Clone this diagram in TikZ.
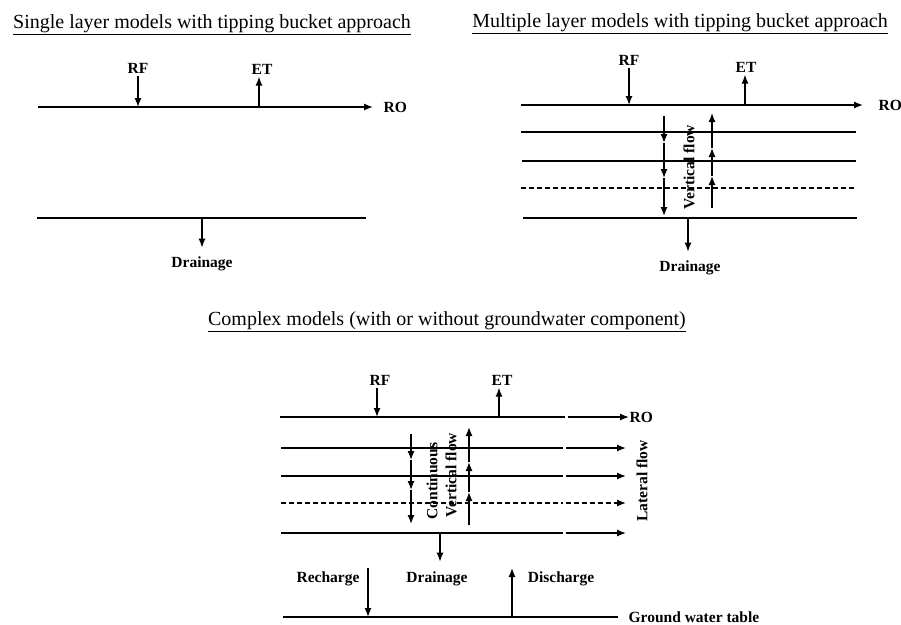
\documentclass[tikz,border=0pt]{standalone}
\usepackage{fontspec}
\setmainfont{Liberation Serif}
\usetikzlibrary{arrows.meta}

\begin{document}
\begin{tikzpicture}[x=1pt,y=-1pt,line width=1.3pt,
		flux/.style={-{Latex[length=9pt,width=7pt]}},
		lbl/.style={font=\fontsize{15.5}{17}\selectfont\bfseries,inner sep=0pt},
		ttl/.style={font=\fontsize{20}{22}\selectfont,inner sep=0pt,anchor=base},
		dashline/.style={dash pattern=on 5pt off 3pt}]
	\useasboundingbox (0,0) rectangle (901,624);
	% single layer
	\node[ttl] (t1) at (212,28) {\underline{Single layer models with tipping bucket approach}};
	\coordinate (a1) at (38,107); \coordinate (a2) at (37,218); \coordinate (a3) at (366,218);
	\node[lbl,anchor=west] (ro1) at (383,107) {RO};
	\node[lbl,anchor=base] (rf1) at (138,73) {RF};
	\node[lbl,anchor=base] (et1) at (262,74) {ET};
	\node[lbl,anchor=base] (dr1) at (202,267) {Drainage};
	\draw[flux] (a1) -- ([xshift=-10pt]ro1.west);
	\draw (a2) -- (a3);
	\draw[flux] ([yshift=-2pt]rf1.south) -- (rf1.south |- a1);
	\draw[flux] ([xshift=-3pt]et1.south |- a1) -- ([xshift=-3pt,yshift=-2pt]et1.south);
	\draw[flux] (dr1.north |- a2) -- ([yshift=8pt]dr1.north);
	% multiple layers
	\node[ttl] (t2) at (680,27) {\underline{Multiple layer models with tipping bucket approach}};
	\coordinate (b1) at (521,105);
	\node[lbl,anchor=west] (ro2) at (878,105) {RO};
	\node[lbl,anchor=base] (rf2) at (629,65) {RF};
	\node[lbl,anchor=base] (et2) at (746,72) {ET};
	\node[lbl,anchor=base] (dr2) at (690,271) {Drainage};
	\node[lbl,rotate=90] (vf2) at (689,167) {Vertical flow};
	\draw[flux] (b1) -- ([xshift=-15pt]ro2.west);
	\draw (521,132) coordinate (b2) -- (856,132);
	\draw (522,161) coordinate (b3) -- (856,161);
	\draw[dashline] (521,188) coordinate (b4) -- (856,188);
	\draw (523,218) coordinate (b5) -- (857,218);
	\draw[flux] ([yshift=-2pt]rf2.south) -- (rf2.south |- b1);
	\draw[flux] ([xshift=-1pt]et2.south |- b1) -- ([xshift=-1pt,yshift=-2pt]et2.south);
	\draw[flux] ([xshift=-2pt]dr2.north |- b5) -- ([xshift=-2pt,yshift=8pt]dr2.north);
	\draw[flux] (664,116) -- (664,143);
	\draw[flux] (664,143) -- (664,178);
	\draw[flux] (664,178) -- (664,216);
	\draw[flux] (712,208) -- (712,176);
	\draw[flux] (712,176) -- (712,148);
	\draw[flux] (712,148) -- (712,113);
	% complex models
	\node[ttl] (t3) at (447,325) {\underline{Complex models (with or without groundwater component)}};
	\node[lbl,anchor=west] (ro3) at (629,417) {RO};
	\node[lbl,anchor=base] (rf3) at (380,385) {RF};
	\node[lbl,anchor=base] (et3) at (502,385) {ET};
	\node[lbl,rotate=90] (ct3) at (432,481) {Continuous};
	\node[lbl,rotate=90] (vf3) at (451,475) {Vertical flow};
	\node[lbl,rotate=90] (lf3) at (642,481) {Lateral flow};
	\node[lbl,anchor=base] (rc3) at (328,582) {Recharge};
	\node[lbl,anchor=base] (dr3) at (437,582) {Drainage};
	\node[lbl,anchor=base] (dc3) at (561,582) {Discharge};
	\node[lbl,anchor=west] (gw3) at (628,617) {Ground water table};
	\coordinate (c1) at (280,417); \coordinate (c5) at (281,533);
	\coordinate (g1) at (283,617); \coordinate (g2) at (618,617);
	\draw (c1) -- (565,417);
	\draw[flux] (568,417) -- (ro3.west);
	\foreach \yy/\sty in {448/solid,476/solid,503/dashline,533/solid}
	{
		\draw[\sty] (281,\yy) -- (563,\yy);
		\draw[\sty,flux] (566,\yy) -- (626,\yy);
	}
	\draw (g1) -- (g2);
	\draw[flux] ([xshift=-3pt,yshift=-2pt]rf3.south) -- ([xshift=-3pt]rf3.south |- c1);
	\draw[flux] ([xshift=-3pt]et3.south |- c1) -- ([xshift=-3pt,yshift=-2pt]et3.south);
	\draw[flux] ([xshift=3pt]dr3.north |- c5) -- ([xshift=3pt,yshift=9pt]dr3.north);
	\draw[flux] (368,568) -- (368,617);
	\draw[flux] (512,617) -- (512,568);
	\draw[flux] (411,434) -- (411,460);
	\draw[flux] (411,460) -- (411,490);
	\draw[flux] (411,490) -- (411,524);
	\draw[flux] (469,525) -- (469,492);
	\draw[flux] (469,492) -- (469,462);
	\draw[flux] (469,462) -- (469,427);
\end{tikzpicture}
\end{document}
